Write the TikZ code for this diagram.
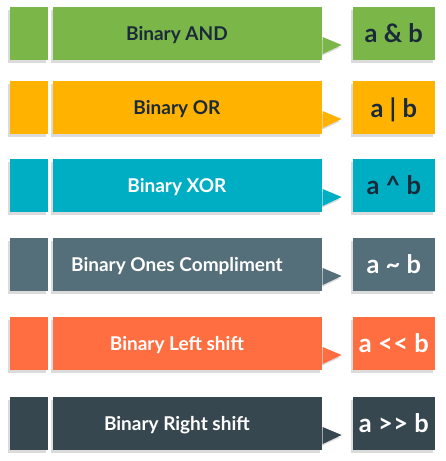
\documentclass[tikz,border=0pt]{standalone}
\usepackage{fontspec}
\setmainfont{Lato}
\usetikzlibrary{positioning,shadows,backgrounds}
\definecolor{OpGreen}{HTML}{7AB648}
\definecolor{OpAmber}{HTML}{FFB300}
\definecolor{OpTeal}{HTML}{00AEC3}
\definecolor{OpSlate}{HTML}{546E7A}
\definecolor{OpCoral}{HTML}{FF6E40}
\definecolor{OpDark}{HTML}{37474F}
\definecolor{OpInk}{HTML}{1B2A3A}
\tikzset{
  opshadow/.style={drop shadow={shadow xshift=-2pt,shadow yshift=-2.5pt,opacity=0.14,fill=black}},
  opbox/.style={rectangle,inner sep=0pt,minimum height=53pt,opshadow},
  optext/.style={font=\bfseries\fontsize{19}{22}\selectfont,text depth=0pt},
  opsign/.style={font=\bfseries\fontsize{25.5}{30}\selectfont,text depth=0pt},
}

\begin{document}
\begin{tikzpicture}[x=1pt,y=1pt]
  \useasboundingbox (0,0) rectangle (446,-461);
  \foreach \row/\yc/\fillc/\labc/\opc/\txt/\sign in {%
      a/33.5/OpGreen/OpInk/OpInk/Binary AND/a \& b,
      b/107.5/OpAmber/OpInk/OpInk/Binary OR/a | b,
      c/185.5/OpTeal/white/OpInk/Binary XOR/a \textasciicircum\ b,
      d/264.5/OpSlate/white/white/Binary Ones Compliment/a \textasciitilde\ b,
      e/343.5/OpCoral/white/white/Binary Left shift/a <\kern0.5pt< b,
      f/423.5/OpDark/white/white/Binary Right shift/a >\kern0.5pt> b}{
    % tab, label box and operator box of one row
    \node[opbox,fill=\fillc,minimum width=38pt] (tab\row) at (29,-\yc) {};
    \node[opbox,fill=\fillc,minimum width=269pt,right=5pt of tab\row] (lbl\row) {};
    \node[optext,text=\labc] (txt\row) at ([xshift=-11pt]lbl\row.center) {\txt};
    \node[opbox,fill=\fillc,minimum width=82pt,right=30pt of lbl\row] (op\row) {};
    \node[opsign,text=\opc] (sign\row) at (op\row.center) {\sign};
    % pointer of the label box
    \begin{scope}[on background layer]
      \fill[\fillc,opshadow]
        ([yshift=-3.5pt]lbl\row.east) -- ([xshift=19pt,yshift=-11.5pt]lbl\row.east)
        -- ([yshift=-20.5pt]lbl\row.east) -- cycle;
    \end{scope}
  }
\end{tikzpicture}
\end{document}
